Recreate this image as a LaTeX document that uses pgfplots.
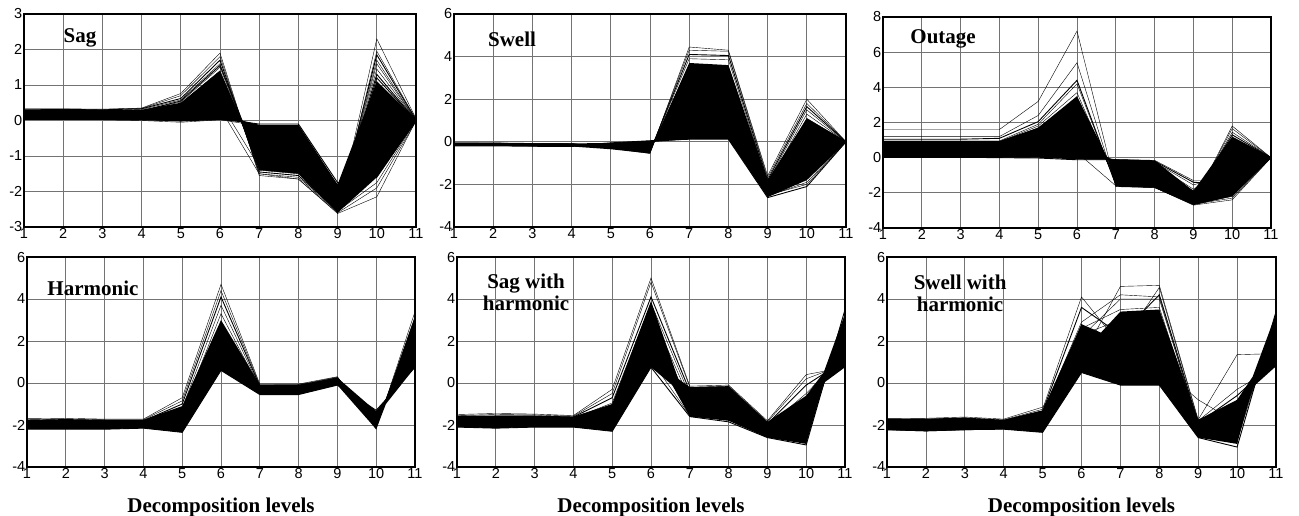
\documentclass[border=0pt]{standalone}
\usepackage{fontspec}
\setmainfont{Liberation Serif}
\setsansfont{Liberation Sans}
\usepackage{pgfplots}
\usepackage{pgfplotstable}
\pgfplotsset{compat=1.18}

% one row per curve, columns are the decomposition levels 1..11
\pgfplotstableread{
id 1 2 3 4 5 6 7 8 9 10 11
a 0.33 0.33 0.32 0.35 0.76 1.90 -1.55 -1.65 -2.62 2.30 0.05
b 0.32 0.32 0.31 0.34 0.70 1.80 -1.50 -1.60 -2.58 1.95 0.03
c 0.30 0.31 0.30 0.33 0.62 1.70 -1.45 -1.55 -2.55 1.85 0.02
d 0.28 0.29 0.28 0.31 0.58 1.60 -1.40 -1.50 -2.52 1.70 0.00
e 0.26 0.27 0.26 0.29 0.52 1.50 -1.30 -1.40 -2.50 1.60 0.00
f 0.24 0.25 0.24 0.27 0.48 1.40 -1.25 -1.35 -2.45 1.45 0.00
g 0.22 0.23 0.22 0.25 0.44 1.30 -1.15 -1.25 -2.40 1.30 0.00
h 0.20 0.21 0.20 0.22 0.40 1.15 -1.00 -1.10 -2.35 1.10 0.00
i 0.18 0.18 0.18 0.20 0.35 1.00 -0.85 -0.95 -2.30 0.90 0.00
j 0.15 0.15 0.15 0.17 0.30 0.80 -0.70 -0.80 -2.25 0.50 0.00
k 0.12 0.12 0.12 0.14 0.25 0.60 -0.50 -0.60 -2.15 0.12 0.00
l 0.10 0.10 0.10 0.11 0.20 0.45 -0.40 -0.45 -2.05 -0.25 0.00
m 0.07 0.07 0.07 0.08 0.12 0.30 -0.25 -0.30 -1.95 -0.80 0.00
n 0.05 0.05 0.05 0.05 0.05 0.15 -0.15 -0.15 -1.85 -1.30 0.00
o 0.03 0.03 0.03 0.02 0.00 0.05 -0.10 -0.10 -1.75 -1.60 0.00
p 0.02 0.02 0.02 0.00 -0.05 0.02 -0.15 -0.20 -2.62 -2.15 0.00
q 0.06 0.06 0.06 0.05 0.10 0.35 -1.50 -1.65 -2.60 -1.90 -0.02
r 0.08 0.08 0.08 0.08 0.15 0.50 -1.30 -1.45 -2.55 -1.75 0.00
s 0.25 0.25 0.25 0.27 0.55 1.55 -1.20 -1.30 -2.48 1.20 0.00
t 0.21 0.21 0.21 0.23 0.42 1.25 -1.05 -1.15 -2.42 0.95 0.00
}\sagraw
\pgfplotstabletranspose[colnames from=id, input colnames to=x]{\sag}{\sagraw}

\pgfplotstableread{
id 1 2 3 4 5 6 7 8 9 10 11
a -0.05 -0.05 -0.07 -0.08 -0.30 -0.55 4.45 4.30 -1.60 2.00 0.00
b -0.06 -0.06 -0.08 -0.09 -0.28 -0.50 4.30 4.25 -1.70 1.80 0.00
c -0.07 -0.07 -0.09 -0.10 -0.26 -0.47 4.10 4.05 -1.80 1.65 0.00
d -0.08 -0.08 -0.10 -0.11 -0.24 -0.44 3.90 3.85 -1.90 1.50 0.00
e -0.09 -0.09 -0.11 -0.12 -0.22 -0.40 3.60 3.55 -2.00 1.30 0.00
f -0.10 -0.10 -0.12 -0.13 -0.20 -0.36 3.30 3.25 -2.05 1.10 0.00
g -0.11 -0.11 -0.13 -0.14 -0.18 -0.32 3.00 2.95 -2.15 0.90 0.00
h -0.12 -0.12 -0.14 -0.15 -0.16 -0.28 2.60 2.55 -2.20 0.70 0.00
i -0.13 -0.13 -0.15 -0.16 -0.15 -0.24 2.20 2.15 -2.25 0.40 0.00
j -0.14 -0.14 -0.16 -0.17 -0.14 -0.20 1.80 1.75 -2.30 0.10 0.00
k -0.15 -0.15 -0.17 -0.18 -0.12 -0.15 1.40 1.35 -2.35 -0.40 0.00
l -0.16 -0.16 -0.18 -0.19 -0.10 -0.10 1.00 0.95 -2.40 -1.00 0.00
m -0.17 -0.17 -0.19 -0.20 -0.08 -0.05 0.60 0.55 -2.45 -1.50 0.00
n -0.18 -0.18 -0.20 -0.21 -0.06 0.00 0.25 0.22 -2.55 -1.90 0.00
o -0.19 -0.19 -0.21 -0.22 -0.05 0.05 0.12 0.12 -2.62 -2.10 0.00
p -0.10 -0.10 -0.12 -0.13 -0.10 0.02 0.20 0.15 -2.50 -2.00 0.00
}\swellraw
\pgfplotstabletranspose[colnames from=id, input colnames to=x]{\swell}{\swellraw}

\pgfplotstableread{
id 1 2 3 4 5 6 7 8 9 10 11
a 1.60 1.60 1.60 1.60 3.20 7.20 -1.65 -1.70 -2.70 -2.40 0.00
b 1.20 1.20 1.20 1.20 2.40 5.40 -1.60 -1.70 -2.65 -2.20 0.00
c 1.05 1.05 1.05 1.10 2.05 4.40 -1.55 -1.65 -2.60 -2.00 0.00
d 0.95 0.95 0.95 0.95 1.90 4.20 -1.50 -1.60 -2.55 1.80 0.00
e 0.90 0.90 0.90 0.90 1.80 3.70 -1.40 -1.55 -2.50 1.65 0.00
f 0.85 0.85 0.85 0.85 1.70 3.40 -1.30 -1.50 -2.40 1.45 0.00
g 0.75 0.75 0.75 0.75 1.50 3.00 -1.10 -1.30 -2.30 1.30 0.00
h 0.65 0.65 0.65 0.65 1.30 2.60 -0.90 -1.10 -2.20 1.10 0.00
i 0.55 0.55 0.55 0.55 1.10 2.20 -0.70 -0.90 -2.10 0.80 0.00
j 0.45 0.45 0.45 0.45 0.90 1.80 -0.50 -0.70 -2.00 0.50 0.00
k 0.35 0.35 0.35 0.35 0.70 1.30 -0.35 -0.50 -1.90 0.20 0.00
l 0.25 0.25 0.25 0.25 0.45 0.90 -0.25 -0.35 -1.80 -0.30 0.00
m 0.15 0.15 0.15 0.15 0.25 0.50 -0.15 -0.25 -1.55 -0.90 0.00
n 0.05 0.05 0.05 0.05 0.05 0.10 -0.10 -0.15 -1.30 -1.30 0.00
o 0.02 0.02 0.02 0.00 -0.02 -0.12 -0.12 -0.20 -1.40 -1.50 0.00
p 0.10 0.10 0.10 0.10 0.15 0.30 -1.60 -1.70 -2.65 -2.30 0.00
}\outraw
\pgfplotstabletranspose[colnames from=id, input colnames to=x]{\outage}{\outraw}

\pgfplotstableread{
id 1 2 3 4 5 6 7 8 9 10 11
a -1.70 -1.68 -1.72 -1.72 -0.70 4.70 -0.05 -0.05 0.30 -2.20 3.40
b -1.75 -1.72 -1.75 -1.75 -0.85 4.40 -0.10 -0.08 0.28 -2.10 3.10
c -1.80 -1.78 -1.80 -1.80 -1.00 4.10 -0.15 -0.12 0.25 -2.00 2.80
d -1.85 -1.83 -1.85 -1.85 -1.20 3.70 -0.20 -0.18 0.22 -1.90 2.50
e -1.90 -1.88 -1.90 -1.90 -1.40 3.30 -0.25 -0.22 0.18 -1.80 2.20
f -1.95 -1.93 -1.95 -1.95 -1.60 2.90 -0.30 -0.28 0.14 -1.70 1.90
g -2.00 -1.98 -2.00 -2.00 -1.80 2.40 -0.35 -0.33 0.10 -1.60 1.60
h -2.05 -2.03 -2.05 -2.05 -1.95 2.00 -0.40 -0.38 0.05 -1.50 1.30
i -2.10 -2.08 -2.10 -2.08 -2.10 1.50 -0.45 -0.43 0.00 -1.42 1.05
j -2.15 -2.13 -2.15 -2.12 -2.25 1.00 -0.50 -0.50 -0.05 -1.35 0.85
k -2.20 -2.20 -2.20 -2.15 -2.35 0.60 -0.55 -0.55 -0.10 -1.30 0.75
}\harmraw
\pgfplotstabletranspose[colnames from=id, input colnames to=x]{\harm}{\harmraw}

\pgfplotstableread{
id 1 2 3 4 5 6 7 8 9 10 11
a -1.50 -1.45 -1.48 -1.55 -0.30 5.00 -0.15 -0.10 -1.80 0.40 0.75
b -1.55 -1.50 -1.52 -1.58 -0.50 4.80 -0.20 -0.15 -1.85 0.20 0.90
c -1.60 -1.58 -1.58 -1.62 -0.70 4.10 -0.40 -0.35 -1.95 -0.10 1.10
d -1.65 -1.65 -1.65 -1.68 -0.95 3.80 -0.60 -0.60 -2.05 -0.50 1.40
e -1.70 -1.72 -1.70 -1.74 -1.20 3.40 -0.80 -0.85 -2.15 -0.90 1.70
f -1.78 -1.80 -1.78 -1.80 -1.45 3.00 -1.00 -1.05 -2.25 -1.30 2.00
g -1.85 -1.88 -1.85 -1.86 -1.70 2.60 -1.20 -1.25 -2.35 -1.70 2.30
h -1.92 -1.95 -1.92 -1.92 -1.90 2.10 -1.35 -1.45 -2.45 -2.10 2.60
i -2.00 -2.05 -2.00 -1.98 -2.05 1.60 -1.45 -1.60 -2.50 -2.50 2.90
j -2.05 -2.12 -2.05 -2.05 -2.20 1.10 -1.55 -1.75 -2.55 -2.75 3.20
k -2.10 -2.15 -2.10 -2.10 -2.30 0.75 -1.60 -1.85 -2.60 -2.95 3.50
}\sagharmraw
\pgfplotstabletranspose[colnames from=id, input colnames to=x]{\sagharm}{\sagharmraw}

\pgfplotstableread{
id 1 2 3 4 5 6 7 8 9 10 11
a -1.70 -1.68 -1.62 -1.72 -1.15 1.20 4.60 4.65 -1.75 1.35 1.40
b -1.75 -1.72 -1.66 -1.76 -1.25 4.10 1.80 4.55 -1.80 -0.30 0.80
c -1.80 -1.78 -1.72 -1.80 -1.35 3.60 2.30 4.20 -1.90 -0.60 1.10
d -1.85 -1.84 -1.78 -1.85 -1.45 2.90 4.20 4.10 -2.00 -0.90 1.30
e -1.90 -1.90 -1.84 -1.90 -1.55 2.60 3.50 3.60 -2.10 -1.20 1.60
f -1.95 -1.96 -1.90 -1.95 -1.65 2.30 3.00 3.10 -2.15 -1.50 1.90
g -2.00 -2.02 -1.96 -2.00 -1.75 2.00 2.50 2.60 -2.25 -1.80 2.20
h -2.05 -2.08 -2.02 -2.05 -1.90 1.70 2.00 2.10 -2.35 -2.10 2.50
i -2.10 -2.15 -2.10 -2.10 -2.05 1.30 1.50 1.60 -2.40 -2.40 2.80
j -2.15 -2.20 -2.15 -2.15 -2.20 0.90 0.80 0.90 -2.50 -2.70 3.10
k -2.22 -2.28 -2.22 -2.20 -2.35 0.50 -0.10 -0.10 -2.60 -3.05 3.40
l -2.00 -2.00 -1.95 -2.00 -1.80 2.80 0.50 0.80 -0.80 -1.90 2.00
m -1.90 -1.92 -1.88 -1.92 -1.60 2.20 4.00 4.00 -2.00 -2.60 3.30
}\swellharmraw
\pgfplotstabletranspose[colnames from=id, input colnames to=x]{\swellharm}{\swellharmraw}

\pgfplotsset{
  panel/.style={
    scale only axis,
    xmin=1, xmax=11, xtick={1,...,11},
    grid=major,
    major grid style={black!55, line width=0.7pt},
    axis line style={line width=1.3pt},
    tick style={draw=none},
    /pgf/number format/assume math mode=true,
    xticklabel style={font=\sffamily\fontsize{14.5}{16}\selectfont, inner sep=1pt},
    yticklabel style={font=\sffamily\fontsize{14.5}{16}\selectfont, inner sep=1.5pt},
    cycle list={{black, solid, mark=none, line width=0.9pt}},
  },
  core/.style={fill=black, draw=none},
  dlab/.style={
    xlabel={Decomposition levels},
    xlabel style={font=\bfseries\fontsize{21}{23}\selectfont,
      at={(axis description cs:0.5,0)}, anchor=center, yshift=-40pt},
  },
}
\tikzset{ttl/.style={font=\bfseries\fontsize{21}{22}\selectfont, align=center}}

\begin{document}
\begin{tikzpicture}[x=1pt,y=1pt]
\useasboundingbox (0,0) rectangle (1299,515);

% Sag
\begin{axis}[panel, at={(24pt,288pt)}, anchor=south west, width=392pt, height=213pt,
  ymin=-3, ymax=3, ytick={-3,...,3}]
  \addplot[core] coordinates {(1,0.30)(2,0.30)(3,0.29)(4,0.30)(5,0.5)(6,1.4)(6.55,0.0)(7,-0.12)(8,-0.12)(9,-1.8)(10,1.1)(11,0.03)
    (11,-0.03)(10,-1.6)(9,-2.6)(8,-1.5)(7,-1.4)(6.55,-0.05)(6,0.02)(5,-0.03)(4,0.02)(3,0.02)(2,0.02)(1,0.04)};
  \pgfplotsinvokeforeach{a,b,c,d,e,f,g,h,i,j,k,l,m,n,o,p,q,r,s,t}{\addplot table[x=x,y=#1]{\sag};}
  \node[ttl] at (rel axis cs:0.143,0.89) {Sag};
\end{axis}

% Swell
\begin{axis}[panel, at={(454pt,288pt)}, anchor=south west, width=392pt, height=213pt,
  ymin=-4, ymax=6, ytick={-4,-2,...,6}]
  \addplot[core] coordinates {(1,-0.05)(2,-0.06)(3,-0.08)(4,-0.08)(5,-0.05)(6,0.05)(6.12,0.05)(7,3.7)(8,3.6)(9,-1.8)(10,1.1)(11,0.03)
    (11,-0.03)(10,-1.8)(9,-2.6)(8,0.12)(7,0.12)(6.12,0.0)(6,-0.55)(5,-0.35)(4,-0.22)(3,-0.2)(2,-0.18)(1,-0.18)};
  \pgfplotsinvokeforeach{a,b,c,d,e,f,g,h,i,j,k,l,m,n,o,p}{\addplot table[x=x,y=#1]{\swell};}
  \node[ttl] at (rel axis cs:0.148,0.88) {Swell};
\end{axis}

% Outage
\begin{axis}[panel, at={(883pt,287pt)}, anchor=south west, width=388pt, height=211pt,
  ymin=-4, ymax=8, ytick={-4,-2,...,8}]
  \addplot[core] coordinates {(1,0.95)(2,0.95)(3,0.95)(4,0.95)(5,1.7)(6,3.5)(6.8,-0.08)(7,-0.1)(8,-0.15)(9,-1.9)(10,1.2)(11,0.03)
    (11,-0.03)(10,-2.2)(9,-2.7)(8,-1.7)(7,-1.65)(6.8,-0.12)(6,-0.1)(5,0.0)(4,0.0)(3,0.02)(2,0.03)(1,0.05)};
  \pgfplotsinvokeforeach{a,b,c,d,e,f,g,h,i,j,k,l,m,n,o,p}{\addplot table[x=x,y=#1]{\outage};}
  \node[ttl] at (rel axis cs:0.155,0.895) {Outage};
\end{axis}

% Harmonic
\begin{axis}[panel, dlab, at={(27pt,48pt)}, anchor=south west, width=388pt, height=210pt,
  ymin=-4, ymax=6, ytick={-4,-2,...,6}]
  \addplot[core] coordinates {(1,-1.75)(2,-1.72)(3,-1.75)(4,-1.75)(5,-1.1)(6,3.0)(7,-0.08)(8,-0.08)(9,0.25)(10,-1.35)(10.25,-0.8)(11,3.2)
    (11,0.75)(10.25,-1.0)(10,-2.2)(9,-0.1)(8,-0.55)(7,-0.55)(6,0.6)(5,-2.35)(4,-2.15)(3,-2.2)(2,-2.2)(1,-2.2)};
  \pgfplotsinvokeforeach{a,b,c,d,e,f,g,h,i,j,k}{\addplot table[x=x,y=#1]{\harm};}
  \node[ttl] at (rel axis cs:0.17,0.853) {Harmonic};
\end{axis}

% Sag with harmonic
\begin{axis}[panel, dlab, at={(457pt,48pt)}, anchor=south west, width=388pt, height=210pt,
  ymin=-4, ymax=6, ytick={-4,-2,...,6}]
  \addplot[core] coordinates {(1,-1.55)(2,-1.55)(3,-1.55)(4,-1.6)(5,-1.0)(6,3.9)(6.7,0.2)(7,-0.2)(8,-0.15)(9,-1.85)(10,-0.6)(10.45,0.5)(11,3.3)
    (11,0.75)(10.45,0.0)(10,-2.9)(9,-2.6)(8,-1.8)(7,-1.6)(6.55,-0.1)(6,0.75)(5,-2.3)(4,-2.1)(3,-2.1)(2,-2.15)(1,-2.1)};
  \pgfplotsinvokeforeach{a,b,c,d,e,f,g,h,i,j,k}{\addplot table[x=x,y=#1]{\sagharm};}
  \node[ttl] at (rel axis cs:0.178,0.83) {Sag with\\harmonic};
\end{axis}

% Swell with harmonic
\begin{axis}[panel, dlab, at={(887pt,48pt)}, anchor=south west, width=389pt, height=210pt,
  ymin=-4, ymax=6, ytick={-4,-2,...,6}]
  \addplot[core] coordinates {(1,-1.7)(2,-1.7)(3,-1.65)(4,-1.75)(5,-1.3)(6,2.8)(6.5,2.4)(7,3.4)(8,3.5)(9,-1.75)(10,-0.8)(10.4,0.3)(11,3.3)
    (11,0.8)(10.4,-0.2)(10,-2.9)(9,-2.6)(8,-0.1)(7,-0.1)(6,0.5)(5,-2.35)(4,-2.2)(3,-2.25)(2,-2.3)(1,-2.25)};
  \pgfplotsinvokeforeach{a,b,c,d,e,f,g,h,i,j,k,l,m}{\addplot table[x=x,y=#1]{\swellharm};}
  \node[ttl] at (rel axis cs:0.188,0.825) {Swell with\\harmonic};
\end{axis}
\end{tikzpicture}
\end{document}
